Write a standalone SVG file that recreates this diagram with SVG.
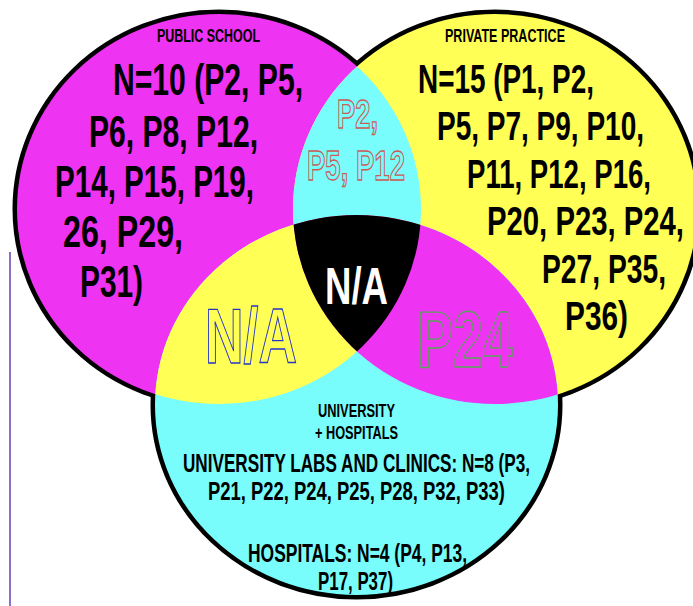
<svg xmlns="http://www.w3.org/2000/svg" width="693" height="606" viewBox="0 0 693 606">
<style>
.t{font-family:"Liberation Sans",Arial,sans-serif;font-weight:bold;fill:#000}
.big{font-size:44px}
.mid{font-size:40px}
.sm{font-size:25px}
.lab{font-size:19px}
.ol{font-family:"Liberation Sans",Arial,sans-serif;font-weight:bold;stroke-width:1.3}
</style>
<defs>
<clipPath id="cL"><ellipse cx="219" cy="209" rx="202" ry="195"/></clipPath>
<clipPath id="cR"><ellipse cx="495" cy="209" rx="202" ry="195"/></clipPath>
<clipPath id="cB"><ellipse cx="356.5" cy="405" rx="201.5" ry="190"/></clipPath>
</defs>
<rect width="693" height="606" fill="#fff"/>
<line x1="10" y1="252" x2="10" y2="606" stroke="#6a3fb0" stroke-width="1.5"/>
<g id="outlines" fill="none" stroke="#000" stroke-width="9">
<ellipse cx="219" cy="209" rx="202" ry="195"/>
<ellipse cx="495" cy="209" rx="202" ry="195"/>
<ellipse cx="356.5" cy="405" rx="201.5" ry="190"/>
</g>
<g id="public-school">
<ellipse cx="219" cy="209" rx="202" ry="195" fill="#EE33F2"/>
</g>
<g id="private-practice">
<ellipse cx="495" cy="209" rx="202" ry="195" fill="#FFFF55"/>
</g>
<g id="university-hospitals">
<ellipse cx="356.5" cy="405" rx="201.5" ry="190" fill="#78FCFC"/>
</g>
<g id="overlap-public-private" clip-path="url(#cL)">
<ellipse cx="495" cy="209" rx="202" ry="195" fill="#78FCFC"/>
</g>
<g id="overlap-public-university" clip-path="url(#cL)">
<ellipse cx="356.5" cy="405" rx="201.5" ry="190" fill="#FFFF55"/>
</g>
<g id="overlap-private-university" clip-path="url(#cR)">
<ellipse cx="356.5" cy="405" rx="201.5" ry="190" fill="#EE33F2"/>
</g>
<g id="overlap-all" clip-path="url(#cL)">
<g clip-path="url(#cR)">
<ellipse cx="356.5" cy="405" rx="201.5" ry="190" fill="#000"/>
</g>
</g>
<g id="public-school-text">
<text class="t lab" x="157" y="42" textLength="103" lengthAdjust="spacingAndGlyphs">PUBLIC SCHOOL</text>
<text class="t big" x="113" y="95" textLength="190" lengthAdjust="spacingAndGlyphs">N=10 (P2, P5,</text>
<text class="t big" x="89" y="147" textLength="169" lengthAdjust="spacingAndGlyphs">P6, P8, P12,</text>
<text class="t big" x="55" y="197" textLength="199" lengthAdjust="spacingAndGlyphs">P14, P15, P19,</text>
<text class="t big" x="63" y="247" textLength="120" lengthAdjust="spacingAndGlyphs">26, P29,</text>
<text class="t big" x="80" y="297" textLength="63" lengthAdjust="spacingAndGlyphs">P31)</text>
</g>
<g id="private-practice-text">
<text class="t lab" x="445" y="42" textLength="120" lengthAdjust="spacingAndGlyphs">PRIVATE PRACTICE</text>
<text class="t mid" x="418" y="93" textLength="176" lengthAdjust="spacingAndGlyphs">N=15 (P1, P2,</text>
<text class="t mid" x="437" y="140" textLength="207" lengthAdjust="spacingAndGlyphs">P5, P7, P9, P10,</text>
<text class="t mid" x="467" y="188" textLength="184" lengthAdjust="spacingAndGlyphs">P11, P12, P16,</text>
<text class="t mid" x="487" y="235" textLength="197" lengthAdjust="spacingAndGlyphs">P20, P23, P24,</text>
<text class="t mid" x="542" y="283" textLength="124" lengthAdjust="spacingAndGlyphs">P27, P35,</text>
<text class="t mid" x="565" y="330" textLength="63" lengthAdjust="spacingAndGlyphs">P36)</text>
</g>
<g id="overlap-text">
<text class="ol" x="337" y="128" font-size="40" fill="none" stroke="#cc5a55" textLength="41" lengthAdjust="spacingAndGlyphs">P2,</text>
<text class="ol" x="307" y="180" font-size="42" fill="none" stroke="#cc5a55" textLength="98" lengthAdjust="spacingAndGlyphs">P5, P12</text>
<text class="t" x="325" y="304" font-size="52" fill="#fff" style="fill:#fff" textLength="63" lengthAdjust="spacingAndGlyphs">N/A</text>
<text class="ol" x="205" y="363" font-size="78" fill="none" stroke="#2535c8" textLength="92" lengthAdjust="spacingAndGlyphs">N/A</text>
<text class="ol" x="417" y="367" font-size="80" fill="none" stroke="#5aa55a" textLength="96" lengthAdjust="spacingAndGlyphs">P24</text>
</g>
<g id="university-text">
<text class="t lab" x="318" y="417" textLength="77" lengthAdjust="spacingAndGlyphs">UNIVERSITY</text>
<text class="t lab" x="315" y="439" textLength="83" lengthAdjust="spacingAndGlyphs">+ HOSPITALS</text>
<text class="t sm" x="183" y="472" textLength="347" lengthAdjust="spacingAndGlyphs">UNIVERSITY LABS AND CLINICS: N=8 (P3,</text>
<text class="t sm" x="208" y="500" textLength="297" lengthAdjust="spacingAndGlyphs">P21, P22, P24, P25, P28, P32, P33)</text>
<text class="t sm" x="248" y="562" textLength="219" lengthAdjust="spacingAndGlyphs">HOSPITALS: N=4 (P4, P13,</text>
<text class="t sm" x="318" y="590" textLength="75" lengthAdjust="spacingAndGlyphs">P17, P37)</text>
</g>
</svg>
